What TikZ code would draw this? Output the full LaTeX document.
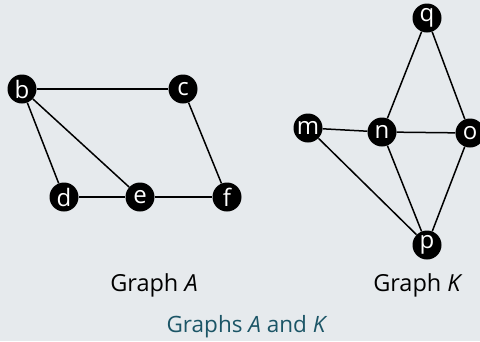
\documentclass[tikz,border=0pt]{standalone}
\usepackage{fontspec}
\setmainfont{Open Sans}
\definecolor{bg}{HTML}{E6EAED}
\definecolor{cap}{HTML}{1B5566}
\begin{document}
\begin{tikzpicture}[x=1pt,y=-1pt,
  vtx/.style={circle,fill=black,text=white,inner sep=0pt,minimum size=29pt,font=\fontsize{24}{24}\selectfont},
  edge/.style={line width=1.5pt,black},
  lbl/.style={font=\fontsize{23.5}{24}\selectfont,inner sep=0pt}]
\fill[bg] (0,0) rectangle (480,341);
\useasboundingbox (0,0) rectangle (480,341);
\node[vtx] (b) at (22,89) {b};
\node[vtx] (c) at (183,89) {c};
\node[vtx] (d) at (64,197) {d};
\node[vtx] (e) at (140,197) {e};
\node[vtx] (f) at (227,197) {f};
\node[vtx] (q) at (427,18) {q};
\node[vtx] (m) at (308,128) {m};
\node[vtx] (n) at (382,132) {n};
\node[vtx] (o) at (470,133) {o};
\node[vtx] (p) at (427,245) {p};
\draw[edge] (b) -- (c);
\draw[edge] (b) -- (d);
\draw[edge] (b) -- (e);
\draw[edge] (c) -- (f);
\draw[edge] (d) -- (e);
\draw[edge] (e) -- (f);
\draw[edge] (q) -- (n);
\draw[edge] (q) -- (o);
\draw[edge] (m) -- (n);
\draw[edge] (n) -- (o);
\draw[edge] (m) -- (p);
\draw[edge] (n) -- (p);
\draw[edge] (o) -- (p);
\node[lbl] (ga) at (154,285) {Graph \textit{A}};
\node[lbl] (gk) at (418,285) {Graph \textit{K}};
\node[lbl,text=cap,font=\fontsize{22.5}{23}\selectfont] (cp) at (247,327) {Graphs \textit{A} and \textit{K}};
\end{tikzpicture}
\end{document}
